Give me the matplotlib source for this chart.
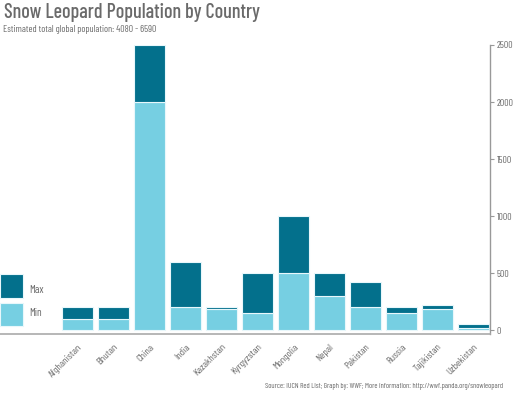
import matplotlib
matplotlib.use("Agg")
import matplotlib.pyplot as plt
from matplotlib.patches import Rectangle
from matplotlib import font_manager

countries = ["Afghanistan", "Bhutan", "China", "India", "Kazakhstan", "Kyrgyzstan",
             "Mongolia", "Nepal", "Pakistan", "Russia", "Tajikistan", "Uzbekistan"]
pop_min = [100, 100, 2000, 200, 180, 150, 500, 300, 200, 150, 180, 20]
pop_max = [200, 200, 2500, 600, 200, 500, 1000, 500, 420, 200, 220, 50]
yticks = [0, 500, 1000, 1500, 2000, 2500]

names = {f.name for f in font_manager.fontManager.ttflist}
FONT = "Barlow Condensed" if "Barlow Condensed" in names else "DejaVu Sans"
plt.rcParams["font.family"] = [FONT, "DejaVu Sans"]

DARK = "#03708c"
LIGHT = "#76cfe2"
GRAY = "#6a6a6a"

fig = plt.figure(figsize=(5.15, 3.97), dpi=100)
ax = fig.add_axes([0.0, 1 - 334 / 397, 490 / 515, (334 - 45) / 397])

x = list(range(len(countries)))
diff = [mx - mn for mn, mx in zip(pop_min, pop_max)]
ax.bar(x, pop_min, width=0.86, color=LIGHT, edgecolor="#e8f7fb", linewidth=0.8)
ax.bar(x, diff, bottom=pop_min, width=0.86, color=DARK, edgecolor="#e8f7fb", linewidth=0.8)

ax.set_xlim(-77.5 / 36, (490 - 77.5) / 36)
ax.set_ylim(-35, 2500)

for s in ["top", "left"]:
    ax.spines[s].set_visible(False)
ax.spines["right"].set_color("#999999")
ax.spines["bottom"].set_color("#aaaaaa")
ax.spines["right"].set_linewidth(1.0)
ax.spines["bottom"].set_linewidth(1.2)
ax.spines["right"].set_bounds(-35, 2500)

ax.yaxis.tick_right()
ax.set_yticks(yticks)
ax.set_yticklabels([str(v) for v in yticks], fontsize=7, color=GRAY)
ax.tick_params(axis="y", direction="out", length=3, color="#999999", pad=2)

ax.set_xticks(x)
ax.set_xticklabels(countries, rotation=45, ha="right", va="top",
                   rotation_mode="anchor", fontsize=7.5, color=GRAY)
ax.tick_params(axis="x", length=0, pad=6)

fig.text(4 / 515, 1 - 3 / 397, "Snow Leopard Population by Country", fontsize=14.5,
         color=GRAY, va="top", ha="left", fontweight="medium")
fig.text(3 / 515, 1 - 25 / 397, "Estimated total global population: 4080 - 6590",
         fontsize=7, color=GRAY, va="top", ha="left")
fig.text(503 / 515, 1 - 387 / 397,
         "Source: IUCN Red List; Graph by: WWF; More information: http://wwf.panda.org/snowleopard",
         fontsize=5.5, color=GRAY, va="center", ha="right")

# legend
fig.patches.append(Rectangle((0, 1 - 298 / 397), 23 / 515, 24 / 397,
                             transform=fig.transFigure, facecolor=DARK, edgecolor="#e8f7fb", lw=0.8))
fig.patches.append(Rectangle((0, 1 - 326 / 397), 23 / 515, 23.5 / 397,
                             transform=fig.transFigure, facecolor=LIGHT, edgecolor="#e8f7fb", lw=0.8))
fig.text(29 / 515, 1 - 290 / 397, "Max", fontsize=8, color=GRAY, va="center", ha="left")
fig.text(29 / 515, 1 - 313 / 397, "Min", fontsize=8, color=GRAY, va="center", ha="left")

fig.savefig("out.png", dpi=100)
